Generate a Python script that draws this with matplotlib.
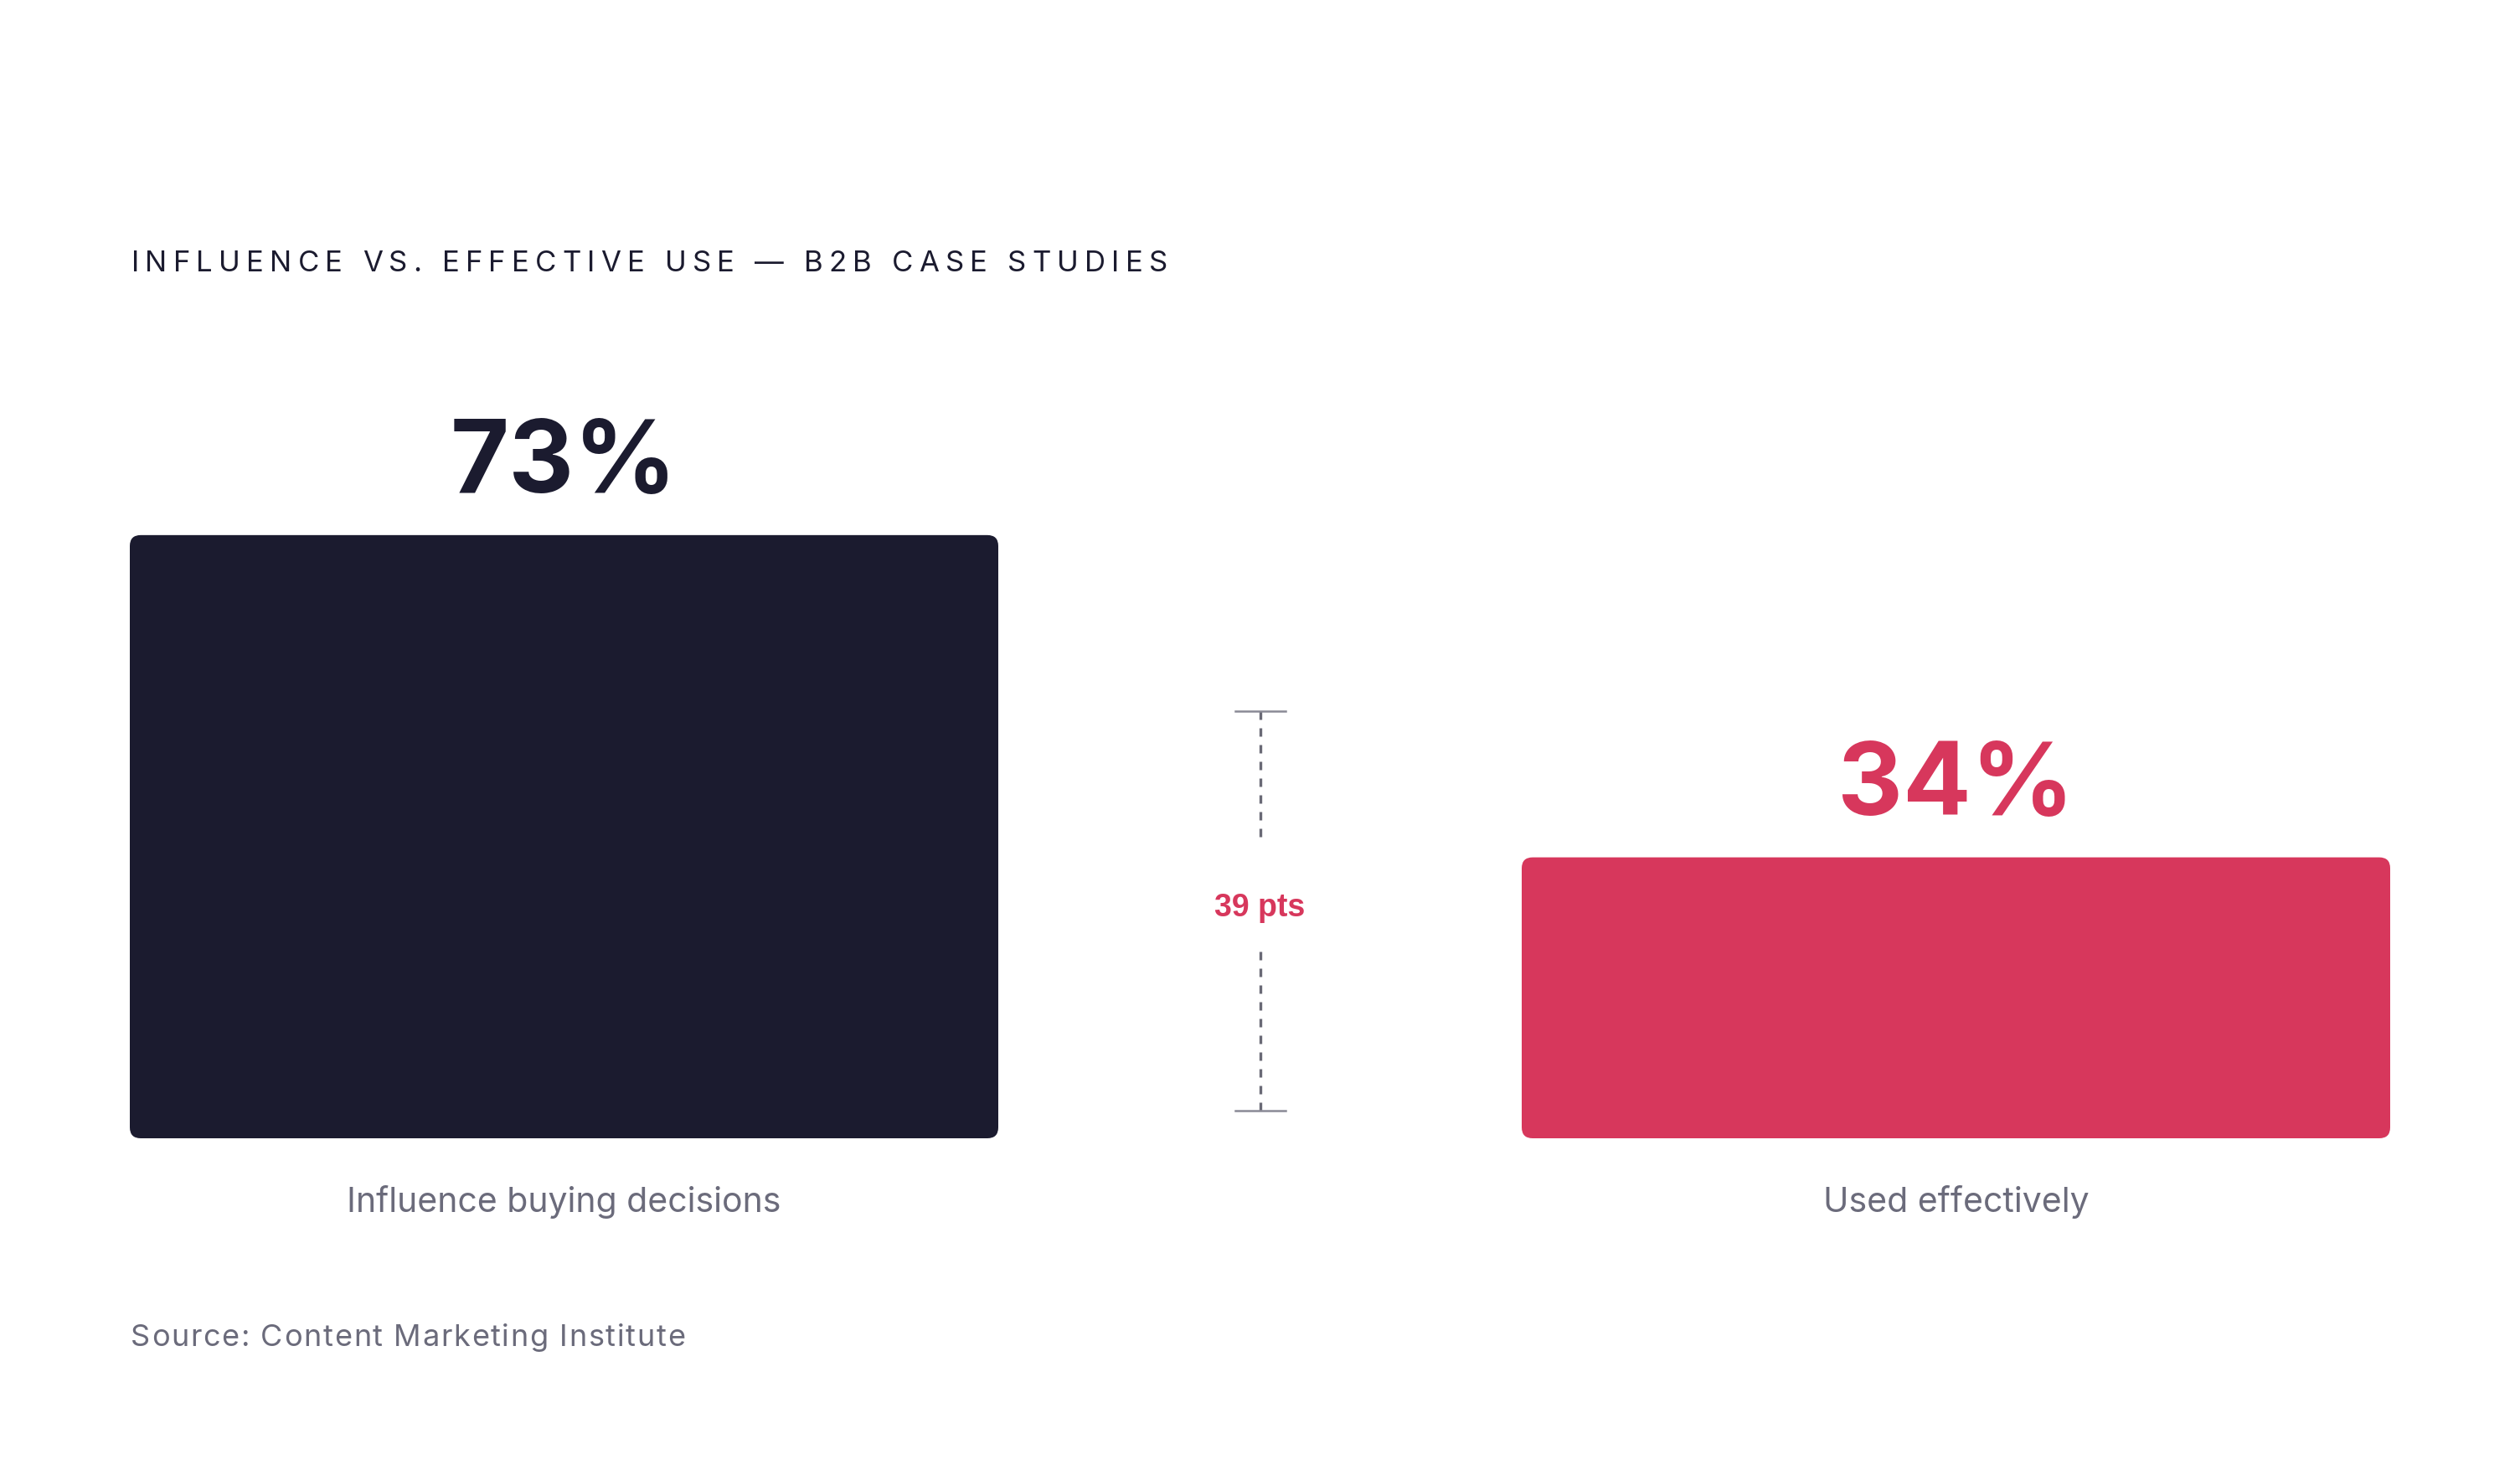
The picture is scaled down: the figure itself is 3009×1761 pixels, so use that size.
import matplotlib.pyplot as plt
from matplotlib.patches import FancyBboxPatch

plt.rcParams['font.family'] = ['Inter', 'DejaVu Sans']

categories = ['Influence buying decisions', 'Used effectively']
values = [73, 34]
value_labels = ['73%', '34%']
gap_label = '39 pts'
title = 'INFLUENCE VS. EFFECTIVE USE \u2014 B2B CASE STUDIES'
source = 'Source: Content Marketing Institute'

DARK = '#1B1B2F'
RED = '#D7375C'
GREY = '#6B6B7B'
bar_colors = [DARK, RED]
value_colors = [DARK, RED]

W, H = 3009, 1761
fig = plt.figure(figsize=(W / 100, H / 100), dpi=100)
fig.patch.set_facecolor('white')

# axes: baseline at y=1359px, 1 unit = 9.865px, bar centres 1662px apart
px_per_x = 1662.0
px_per_y = 9.865
ax = fig.add_axes([155 / W, (H - 1359) / H, 2699 / W, 100 * px_per_y / H])
ax.set_xlim(-518.5 / px_per_x, (2699 - 518.5) / px_per_x)
ax.set_ylim(0, 100)
ax.axis('off')

bars = ax.bar(range(len(values)), values, width=1037 / px_per_x, color=bar_colors)
r = 13
for b in bars:
    b.set_visible(False)
    ax.add_patch(FancyBboxPatch((b.get_x(), b.get_y()), b.get_width(), b.get_height(),
                                boxstyle=f'round,pad=0,rounding_size={r / px_per_x}',
                                mutation_aspect=px_per_x / px_per_y,
                                fc=b.get_facecolor(), ec='none'))

for i, (v, lab) in enumerate(zip(values, value_labels)):
    ax.annotate(lab, (i, v), xytext=(0, 51), textcoords='offset pixels',
                ha='center', va='baseline', fontsize=87, fontweight='bold',
                color=value_colors[i])
    ax.annotate(categories[i], (i, 0), xytext=(0, -88), textcoords='offset pixels',
                ha='center', va='baseline', fontsize=29.5, color=GREY)

# gap bracket between the bars
bx = 0.5
top, bottom = 51.7, 3.3
dash_top_end, dash_bot_start = 36.4, 22.6
ls = (0, (3, 3))
ax.plot([bx, bx], [top, dash_top_end], color='#6A6A76', lw=2.4, linestyle=ls)
ax.plot([bx, bx], [dash_bot_start, bottom], color='#6A6A76', lw=2.4, linestyle=ls)
cap = 30 / px_per_x
for yy in (top, bottom):
    ax.plot([bx - cap, bx + cap], [yy, yy], color='#8A8A96', lw=1.8)
ax.text(bx, 27.9, gap_label, ha='center', va='center', fontsize=27,
        fontweight='bold', color=RED, family=['Liberation Sans', 'DejaVu Sans'])

renderer = fig.canvas.get_renderer()


def text_width(s, kw):
    t = fig.text(0, 0, s, **kw)
    w = t.get_window_extent(renderer).width
    t.remove()
    return w


def tracked(s, x0, baseline, target, kw):
    space_w = text_width('I I', kw) - text_width('II', kw)
    widths = [space_w if ch == ' ' else text_width(ch, kw) for ch in s]
    track = (target - sum(widths)) / (len(s) - 1)
    x = x0
    for ch, w in zip(s, widths):
        if ch != ' ':
            fig.text(x / W, 1 - baseline / H, ch, **kw)
        x += w + track


tracked(title, 157, 324, 1237,
        dict(fontsize=25, color=DARK, va='baseline', ha='left'))
tracked(source, 156, 1607, 662,
        dict(fontsize=26, color=GREY, va='baseline', ha='left'))

fig.savefig('out.png', dpi=100, facecolor='white')
